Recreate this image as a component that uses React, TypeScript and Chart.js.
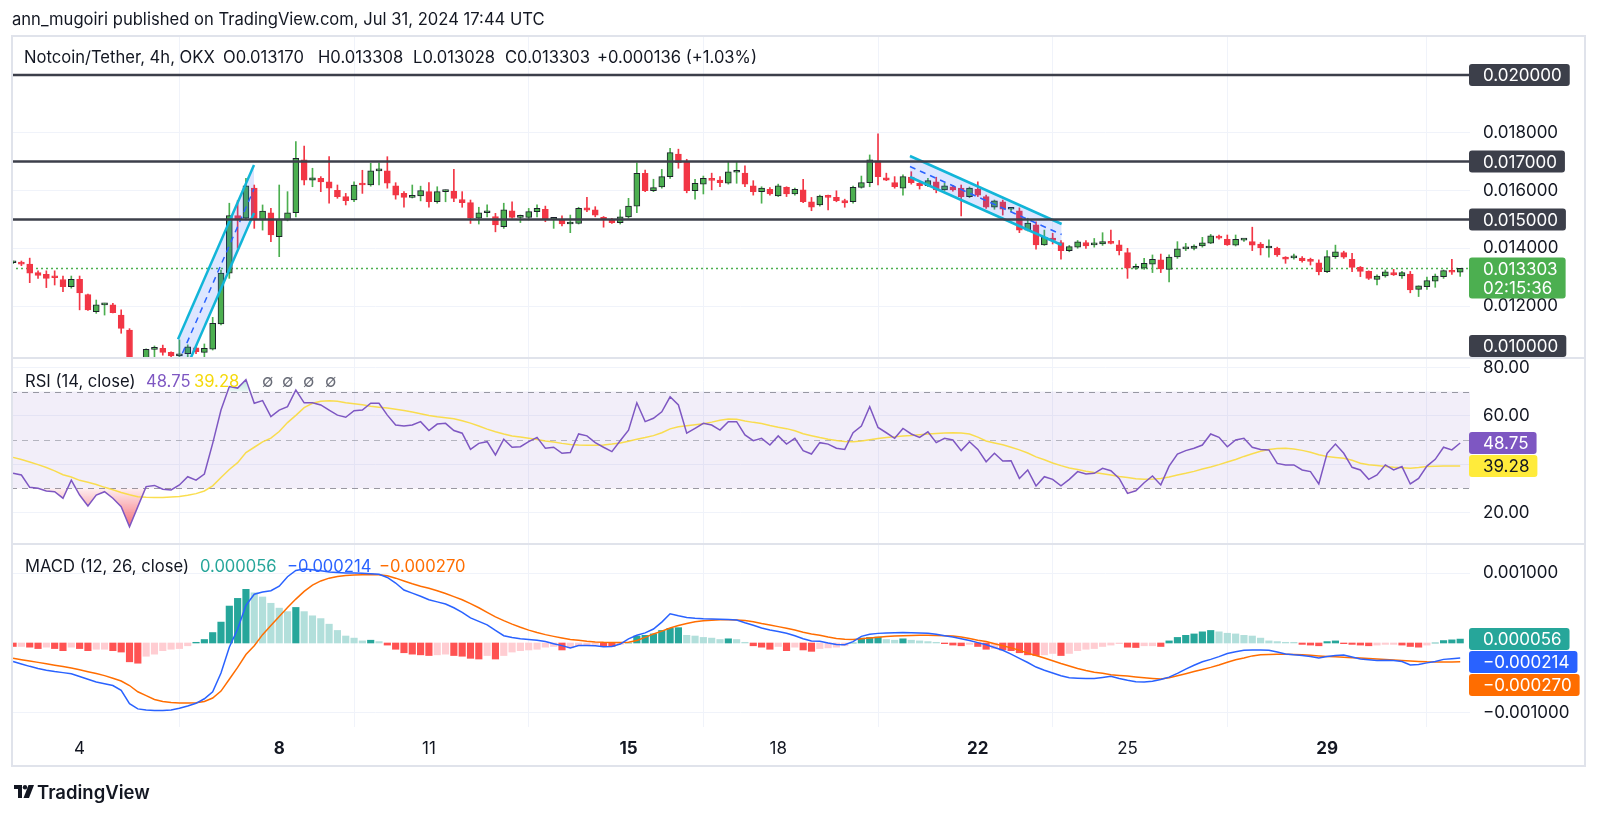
import React, { useEffect, useRef } from 'react';
import { Chart, registerables } from 'chart.js';

// ---------- clip every dataset to its own pane ----------
const paneClip = {
  id: 'paneClip',
  beforeDatasetDraw(chart: any, args: any) {
    const ys = chart.scales[args.meta.yAxisID];
    const ca = chart.chartArea;
    const ctx = chart.ctx;
    ctx.save();
    ctx.beginPath();
    ctx.rect(ca.left, ys.top, ca.right - ca.left, ys.bottom - ys.top);
    ctx.clip();
  },
  afterDatasetDraw(chart: any) {
    chart.ctx.restore();
  },
};
Chart.register(paneClip as any);
Chart.register(...registerables);

const FONT = 'Inter, "Noto Sans", Roboto, sans-serif';
Chart.defaults.font.family = FONT;

// ---------- data ----------
const dayTickIndex = [8, 32, 50, 74, 92, 116, 134, 158];
const dayTickLabels = ['4', '8', '11', '15', '18', '22', '25', '29'];
const boldDayLabels = ['8', '15', '22', '29'];

const opens = [
  0.01350, 0.01352, 0.01345, 0.01316, 0.01310, 0.01303, 0.01292, 0.01267, 0.01293, 0.01240,
  0.01181, 0.01204, 0.01204, 0.01169, 0.01117, 0.00985, 0.01005, 0.01050, 0.01054, 0.01040,
  0.01028, 0.01035, 0.01056, 0.01040, 0.01051, 0.01138, 0.01314, 0.01513, 0.01504, 0.01608,
  0.01498, 0.01523, 0.01440, 0.01498, 0.01523, 0.01706, 0.01636, 0.01642, 0.01630, 0.01601,
  0.01579, 0.01567, 0.01625, 0.01619, 0.01668, 0.01668, 0.01616, 0.01590, 0.01576, 0.01581,
  0.01596, 0.01561, 0.01596, 0.01598, 0.01569, 0.01558, 0.01504, 0.01523, 0.01510, 0.01475,
  0.01530, 0.01507, 0.01507, 0.01527, 0.01535, 0.01500, 0.01500, 0.01484, 0.01486, 0.01540,
  0.01533, 0.01507, 0.01498, 0.01489, 0.01509, 0.01546, 0.01659, 0.01599, 0.01612, 0.01648,
  0.01726, 0.01700, 0.01599, 0.01622, 0.01640, 0.01636, 0.01625, 0.01663, 0.01660, 0.01616,
  0.01596, 0.01604, 0.01581, 0.01611, 0.01588, 0.01602, 0.01561, 0.01550, 0.01582, 0.01576,
  0.01565, 0.01561, 0.01611, 0.01627, 0.01703, 0.01644, 0.01627, 0.01608, 0.01646, 0.01625,
  0.01617, 0.01630, 0.01602, 0.01613, 0.01608, 0.01579, 0.01604, 0.01579, 0.01542, 0.01561,
  0.01535, 0.01530, 0.01463, 0.01481, 0.01412, 0.01435, 0.01420, 0.01392, 0.01404, 0.01420,
  0.01412, 0.01415, 0.01424, 0.01412, 0.01385, 0.01331, 0.01331, 0.01345, 0.01360, 0.01327,
  0.01370, 0.01398, 0.01400, 0.01408, 0.01418, 0.01440, 0.01431, 0.01411, 0.01428, 0.01423,
  0.01415, 0.01401, 0.01400, 0.01370, 0.01367, 0.01366, 0.01362, 0.01350, 0.01319, 0.01371,
  0.01385, 0.01362, 0.01334, 0.01320, 0.01292, 0.01304, 0.01316, 0.01304, 0.01311, 0.01258,
  0.01267, 0.01286, 0.01302, 0.01323, 0.013170,
];
const highs = [
  0.01356, 0.01356, 0.01366, 0.01322, 0.01322, 0.01322, 0.01304, 0.01304, 0.01304, 0.01242,
  0.01221, 0.01210, 0.01210, 0.01187, 0.01122, 0.01015, 0.01052, 0.01062, 0.01065, 0.01042,
  0.01083, 0.01066, 0.01060, 0.01069, 0.01161, 0.01325, 0.01556, 0.01565, 0.01642, 0.01619,
  0.01550, 0.01538, 0.01619, 0.01596, 0.01769, 0.01754, 0.01677, 0.01648, 0.01717, 0.01619,
  0.01590, 0.01630, 0.01670, 0.01694, 0.01696, 0.01717, 0.01627, 0.01596, 0.01619, 0.01615,
  0.01627, 0.01613, 0.01602, 0.01673, 0.01596, 0.01567, 0.01542, 0.01550, 0.01521, 0.01556,
  0.01561, 0.01515, 0.01538, 0.01550, 0.01546, 0.01507, 0.01512, 0.01515, 0.01542, 0.01576,
  0.01544, 0.01510, 0.01504, 0.01533, 0.01573, 0.01696, 0.01671, 0.01639, 0.01673, 0.01746,
  0.01743, 0.01708, 0.01639, 0.01650, 0.01660, 0.01648, 0.01700, 0.01700, 0.01685, 0.01634,
  0.01613, 0.01610, 0.01622, 0.01613, 0.01608, 0.01639, 0.01576, 0.01584, 0.01584, 0.01599,
  0.01570, 0.01615, 0.01650, 0.01723, 0.01796, 0.01660, 0.01648, 0.01654, 0.01665, 0.01630,
  0.01642, 0.01646, 0.01625, 0.01618, 0.01619, 0.01612, 0.01630, 0.01584, 0.01567, 0.01567,
  0.01542, 0.01540, 0.01504, 0.01492, 0.01463, 0.01452, 0.01427, 0.01410, 0.01427, 0.01427,
  0.01434, 0.01454, 0.01463, 0.01427, 0.01400, 0.01345, 0.01365, 0.01377, 0.01380, 0.01377,
  0.01423, 0.01417, 0.01412, 0.01438, 0.01448, 0.01446, 0.01446, 0.01446, 0.01432, 0.01473,
  0.01420, 0.01429, 0.01404, 0.01371, 0.01380, 0.01371, 0.01366, 0.01360, 0.01392, 0.01411,
  0.01390, 0.01383, 0.01337, 0.01322, 0.01308, 0.01325, 0.01327, 0.01320, 0.01320, 0.01270,
  0.01300, 0.01311, 0.01325, 0.01362, 0.013308,
];
const lows = [
  0.01347, 0.01340, 0.01281, 0.01296, 0.01264, 0.01273, 0.01250, 0.01262, 0.01187, 0.01185,
  0.01175, 0.01169, 0.01176, 0.01106, 0.00960, 0.00965, 0.00995, 0.01010, 0.01030, 0.01018,
  0.01015, 0.01025, 0.01035, 0.01023, 0.01048, 0.01135, 0.01296, 0.01400, 0.01498, 0.01469,
  0.01463, 0.01423, 0.01371, 0.01495, 0.01509, 0.01619, 0.01613, 0.01596, 0.01556, 0.01573,
  0.01550, 0.01561, 0.01590, 0.01615, 0.01619, 0.01608, 0.01570, 0.01542, 0.01574, 0.01564,
  0.01542, 0.01556, 0.01561, 0.01561, 0.01542, 0.01486, 0.01484, 0.01509, 0.01457, 0.01469,
  0.01504, 0.01489, 0.01498, 0.01509, 0.01492, 0.01469, 0.01477, 0.01454, 0.01484, 0.01527,
  0.01509, 0.01473, 0.01486, 0.01484, 0.01504, 0.01523, 0.01596, 0.01596, 0.01608, 0.01642,
  0.01677, 0.01592, 0.01570, 0.01588, 0.01602, 0.01613, 0.01622, 0.01625, 0.01613, 0.01584,
  0.01556, 0.01584, 0.01579, 0.01579, 0.01584, 0.01558, 0.01530, 0.01546, 0.01533, 0.01561,
  0.01542, 0.01556, 0.01608, 0.01613, 0.01619, 0.01634, 0.01608, 0.01584, 0.01622, 0.01605,
  0.01613, 0.01592, 0.01600, 0.01598, 0.01512, 0.01575, 0.01579, 0.01538, 0.01535, 0.01515,
  0.01527, 0.01454, 0.01460, 0.01397, 0.01410, 0.01415, 0.01362, 0.01388, 0.01400, 0.01400,
  0.01404, 0.01410, 0.01415, 0.01377, 0.01296, 0.01327, 0.01327, 0.01316, 0.01316, 0.01284,
  0.01365, 0.01392, 0.01394, 0.01404, 0.01416, 0.01432, 0.01410, 0.01408, 0.01424, 0.01392,
  0.01377, 0.01369, 0.01372, 0.01348, 0.01362, 0.01352, 0.01342, 0.01308, 0.01316, 0.01365,
  0.01365, 0.01319, 0.01302, 0.01292, 0.01273, 0.01300, 0.01306, 0.01296, 0.01246, 0.01233,
  0.01258, 0.01265, 0.01296, 0.01310, 0.013028,
];
const closes = [
  0.01352, 0.01345, 0.01314, 0.01306, 0.01296, 0.01298, 0.01267, 0.01293, 0.01246, 0.01187,
  0.01204, 0.01206, 0.01177, 0.01123, 0.00985, 0.01005, 0.01050, 0.01054, 0.01040, 0.01028,
  0.01035, 0.01059, 0.01042, 0.01054, 0.01140, 0.01314, 0.01513, 0.01498, 0.01616, 0.01498,
  0.01529, 0.01446, 0.01500, 0.01523, 0.01711, 0.01636, 0.01644, 0.01630, 0.01608, 0.01579,
  0.01565, 0.01619, 0.01619, 0.01668, 0.01673, 0.01625, 0.01584, 0.01576, 0.01579, 0.01600,
  0.01561, 0.01596, 0.01598, 0.01573, 0.01558, 0.01504, 0.01523, 0.01530, 0.01481, 0.01533,
  0.01507, 0.01509, 0.01527, 0.01538, 0.01500, 0.01502, 0.01484, 0.01486, 0.01538, 0.01532,
  0.01515, 0.01498, 0.01489, 0.01509, 0.01546, 0.01659, 0.01599, 0.01610, 0.01648, 0.01731,
  0.01696, 0.01599, 0.01625, 0.01642, 0.01635, 0.01627, 0.01665, 0.01665, 0.01622, 0.01596,
  0.01608, 0.01588, 0.01616, 0.01588, 0.01604, 0.01561, 0.01542, 0.01581, 0.01576, 0.01565,
  0.01557, 0.01611, 0.01627, 0.01706, 0.01648, 0.01636, 0.01613, 0.01648, 0.01627, 0.01617,
  0.01634, 0.01602, 0.01616, 0.01602, 0.01579, 0.01608, 0.01584, 0.01542, 0.01564, 0.01535,
  0.01536, 0.01463, 0.01487, 0.01412, 0.01438, 0.01427, 0.01392, 0.01406, 0.01422, 0.01408,
  0.01415, 0.01423, 0.01417, 0.01392, 0.01331, 0.01334, 0.01348, 0.01362, 0.01329, 0.01370,
  0.01398, 0.01401, 0.01408, 0.01419, 0.01443, 0.01435, 0.01412, 0.01431, 0.01429, 0.01411,
  0.01401, 0.01404, 0.01377, 0.01362, 0.01369, 0.01357, 0.01355, 0.01319, 0.01371, 0.01388,
  0.01369, 0.01334, 0.01320, 0.01296, 0.01304, 0.01319, 0.01308, 0.01316, 0.01256, 0.01270,
  0.01288, 0.01304, 0.01323, 0.01317, 0.013303,
];

const rsiValues = [
  36.2, 35.5, 30.4, 30.0, 28.9, 28.6, 25.9, 33.4, 27.2, 22.7,
  27.2, 28.6, 25.9, 22.4, 14.1, 22.4, 30.7, 31.2, 29.6, 29.3,
  31.4, 34.8, 33.4, 35.9, 48.6, 62.4, 72.1, 71.5, 75.0, 65.2,
  66.3, 59.7, 62.4, 63.8, 70.7, 65.4, 65.4, 64.5, 62.4, 60.3,
  59.4, 62.1, 62.4, 65.2, 65.2, 60.3, 56.2, 55.8, 56.2, 57.6,
  53.9, 56.6, 56.9, 53.9, 52.8, 46.1, 48.6, 49.3, 43.8, 50.3,
  47.0, 47.2, 49.3, 51.1, 46.6, 47.0, 44.5, 44.8, 52.5, 51.7,
  48.9, 47.0, 45.2, 49.7, 54.1, 65.4, 57.6, 59.0, 61.7, 67.9,
  64.5, 52.8, 54.8, 56.9, 56.2, 54.1, 57.6, 57.6, 52.1, 49.7,
  50.7, 47.9, 51.7, 48.3, 50.7, 45.6, 44.2, 48.9, 48.3, 46.6,
  46.1, 53.0, 55.8, 63.8, 55.2, 53.0, 50.7, 54.8, 52.5, 51.1,
  53.4, 48.9, 50.7, 50.0, 45.6, 49.3, 46.1, 41.0, 44.5, 41.3,
  41.4, 34.1, 37.6, 31.0, 34.8, 33.7, 31.0, 33.7, 36.9, 35.9,
  36.2, 38.3, 37.3, 34.1, 27.9, 29.0, 32.3, 35.1, 31.4, 39.2,
  44.2, 45.6, 46.6, 47.9, 52.5, 51.1, 47.2, 50.0, 50.7, 47.0,
  46.1, 45.9, 40.3, 39.7, 39.7, 37.6, 36.9, 31.8, 44.5, 48.3,
  44.5, 38.7, 37.6, 33.7, 35.5, 39.7, 37.6, 39.0, 31.8, 34.1,
  39.2, 42.0, 47.0, 45.9, 48.75,
];
const rsiMaValues = [
  42.8, 41.9, 40.9, 39.8, 38.6, 37.2, 35.6, 34.7, 33.3, 32.5,
  31.6, 30.4, 29.4, 28.3, 27.3, 26.5, 26.3, 26.2, 26.2, 26.4,
  26.6, 27.1, 27.8, 28.9, 31.0, 34.5, 37.8, 40.6, 44.8, 47.0,
  49.2, 50.8, 53.5, 57.2, 60.2, 63.4, 65.2, 66.0, 66.3, 66.0,
  65.4, 65.0, 64.6, 64.0, 63.6, 63.2, 62.7, 62.2, 61.6, 60.9,
  60.1, 59.6, 59.2, 58.8, 58.0, 57.0, 55.8, 54.5, 53.4, 52.5,
  51.7, 51.2, 50.7, 50.2, 49.6, 49.2, 48.6, 48.1, 47.9, 47.8,
  47.8, 47.9, 48.3, 48.8, 49.5, 50.3, 51.0, 51.8, 53.0, 54.6,
  55.5, 55.9, 56.3, 56.7, 57.4, 58.2, 58.7, 58.6, 57.9, 57.3,
  56.8, 56.0, 55.3, 54.7, 53.8, 52.6, 51.8, 51.0, 50.3, 49.8,
  49.4, 49.3, 49.6, 50.1, 50.6, 51.0, 51.3, 51.7, 51.9, 52.2,
  52.5, 52.7, 52.9, 53.0, 52.9, 52.5, 51.2, 49.6, 48.8, 48.0,
  47.0, 45.9, 44.6, 43.0, 41.8, 40.5, 39.4, 38.4, 37.8, 37.1,
  36.5, 36.0, 35.5, 34.9, 34.5, 34.0, 33.7, 33.8, 34.1, 34.7,
  35.5, 36.2, 37.0, 38.0, 38.8, 39.8, 40.9, 41.9, 43.2, 44.3,
  45.3, 46.1, 46.5, 46.6, 46.3, 45.7, 44.9, 43.9, 43.2, 42.8,
  42.4, 41.6, 40.4, 39.8, 39.4, 39.0, 38.7, 38.5, 38.3, 38.6,
  39.0, 39.1, 39.2, 39.2, 39.28,
];

// MACD values in millionths
const macdE6 = [
  -265, -300, -335, -365, -390, -410, -425, -440, -480, -520,
  -560, -585, -610, -680, -870, -945, -960, -970, -968, -960,
  -935, -905, -865, -800, -700, -430, -60, 200, 540, 700,
  730, 750, 815, 950, 1040, 1060, 1050, 1035, 1020, 1010,
  1005, 1003, 1000, 995, 985, 940, 860, 760, 715, 670,
  620, 590, 560, 505, 440, 360, 310, 260, 180, 105,
  80, 60, 50, 38, 20, -10, -38, -70, -35, -35,
  -40, -55, -50, -15, 60, 110, 145, 200, 300, 420,
  390, 365, 355, 348, 345, 340, 337, 330, 290, 255,
  215, 185, 165, 140, 105, 60, 30, 25, 0, -20,
  -25, 20, 95, 125, 138, 142, 148, 150, 148, 145,
  140, 125, 105, 85, 60, 35, 5, -25, -65, -105,
  -160, -220, -280, -345, -390, -430, -470, -500, -505, -508,
  -510, -495, -478, -510, -535, -555, -558, -548, -525, -490,
  -435, -375, -320, -270, -235, -195, -150, -125, -105, -100,
  -100, -105, -130, -158, -170, -178, -195, -215, -195, -180,
  -172, -200, -228, -240, -250, -248, -250, -265, -315, -310,
  -285, -265, -235, -225, -214,
];
const signalE6 = [
  -220, -240, -258, -278, -298, -318, -338, -360, -385, -412,
  -438, -468, -505, -545, -610, -700, -755, -810, -840, -855,
  -860, -862, -858, -838, -790, -690, -520, -350, -165, -40,
  120, 250, 380, 510, 630, 740, 830, 890, 930, 955,
  968, 975, 980, 982, 980, 965, 930, 890, 850, 815,
  785, 750, 710, 665, 620, 565, 505, 440, 375, 320,
  270, 225, 185, 150, 120, 95, 72, 50, 38, 25,
  15, 10, 8, 8, 10, 35, 80, 130, 170, 215,
  250, 280, 305, 320, 328, 332, 333, 330, 322, 305,
  280, 258, 235, 212, 185, 155, 130, 110, 85, 65,
  52, 50, 60, 70, 82, 92, 100, 105, 108, 110,
  110, 108, 105, 100, 85, 65, 40, 20, -10, -40,
  -70, -105, -145, -180, -215, -255, -295, -330, -365, -395,
  -420, -435, -455, -465, -475, -488, -500, -510, -518, -500,
  -470, -440, -410, -380, -350, -315, -275, -240, -215, -185,
  -170, -165, -160, -162, -165, -170, -177, -185, -192, -198,
  -203, -210, -216, -222, -230, -237, -244, -250, -258, -265,
  -270, -272, -272, -271, -270,
];
const histE6 = [
  -50, -50, -60, -80, -60, -80, -110, -60, -80, -110,
  -90, -90, -110, -130, -270, -290, -190, -160, -110, -90,
  -80, -40, 10, 50, 150, 300, 530, 640, 770, 720,
  660, 570, 500, 450, 510, 450, 390, 350, 270, 180,
  100, 70, 30, 40, 20, -30, -90, -140, -160, -170,
  -180, -170, -160, -180, -190, -220, -230, -180, -230, -180,
  -130, -110, -100, -90, -60, -50, -100, -70, -40, -30,
  -20, -40, -50, -20, 0, 100, 110, 130, 180, 210,
  220, 110, 100, 80, 70, 50, 60, 50, 10, -40,
  -60, -90, -50, -110, -60, -100, -120, -80, -70, -60,
  -40, 0, 70, 80, 85, 50, 40, 60, 40, 30,
  20, 10, -10, -30, -40, -20, -50, -90, -80, -100,
  -110, -140, -170, -180, -170, -150, -180, -150, -110, -90,
  -80, -50, -30, -10, -60, -65, -40, -40, -50, 30,
  80, 110, 130, 160, 180, 160, 140, 130, 110, 100,
  70, 30, 20, 10, 10, -20, -30, -40, 20, 30,
  -10, -20, -30, -40, -30, -20, -20, -30, -50, -60,
  -30, 0, 35, 45, 56,
];

const levelPrices = [0.02, 0.017, 0.015, 0.01];
const lastPrice = 0.013303;
const countdownText = '02:15:36';
const priceTicks = [0.012, 0.014, 0.016, 0.018];
const rsiTicks = [20, 40, 60, 80];
const macdTicks = [-0.001, 0.001];
const lastRsi = 48.75;
const lastRsiMa = 39.28;
const lastHist = 0.000056;
const lastMacd = -0.000214;
const lastSignal = -0.00027;

// drawn channels (bar index, price)
const riseChannelX = [19.83, 28.97];
const riseChannelTop = [0.010852, 0.016882];
const riseChannelWidth = 0.00166;
const fallChannelX = [107.84, 126.08];
const fallChannelTop = [0.017194, 0.014841];
const fallChannelWidth = 0.000727;

// ---------- layout constants ----------
const X_MIN = -0.25;
const X_MAX = 175.18;
const INK = '#131722';
const UP = '#4caf50';
const DOWN = '#f23645';
const CYAN = '#12b5d8';
const LEGEND_SIZE = 16.6;

const fmtMinus = (s: string) => s.replace('-', '\u2212');

function roundRect(ctx: any, x: number, y: number, w: number, h: number, r: number) {
  ctx.beginPath();
  ctx.moveTo(x + r, y);
  ctx.lineTo(x + w - r, y);
  ctx.quadraticCurveTo(x + w, y, x + w, y + r);
  ctx.lineTo(x + w, y + h - r);
  ctx.quadraticCurveTo(x + w, y + h, x + w - r, y + h);
  ctx.lineTo(x + r, y + h);
  ctx.quadraticCurveTo(x, y + h, x, y + h - r);
  ctx.lineTo(x, y + r);
  ctx.quadraticCurveTo(x, y, x + r, y);
  ctx.closePath();
}

const AXIS_FONT = `17px ${FONT}`;

function labelBox(ctx: any, x: number, cy: number, lines: string[], bg: string, fg: string) {
  ctx.font = AXIS_FONT;
  const tw = Math.max(...lines.map((l) => ctx.measureText(l).width));
  const lh = 19;
  const h = 22 + (lines.length - 1) * lh;
  const w = 14 + tw + 8;
  roundRect(ctx, x, cy - 11, w, h, 3);
  ctx.fillStyle = bg;
  ctx.fill();
  ctx.fillStyle = fg;
  ctx.textAlign = 'left';
  ctx.textBaseline = 'middle';
  lines.forEach((l, k) => ctx.fillText(l, x + 14, cy + 1 + k * lh));
  return h;
}

// gradient zone fill between the RSI line and a level (oversold / overbought)
function rsiZone(chart: any, level: number, far: number, below: boolean, rgb: string) {
  const { ctx, chartArea: ca } = chart;
  const xs = chart.scales.x;
  const yr = chart.scales.yRSI;
  const yl = yr.getPixelForValue(level);
  const yf = yr.getPixelForValue(far);
  ctx.save();
  ctx.beginPath();
  if (below) ctx.rect(ca.left, yl, ca.right - ca.left, yr.bottom - yl);
  else ctx.rect(ca.left, yr.top, ca.right - ca.left, yl - yr.top);
  ctx.clip();
  ctx.beginPath();
  ctx.moveTo(xs.getPixelForValue(0), yl);
  rsiValues.forEach((v, i) => ctx.lineTo(xs.getPixelForValue(i), yr.getPixelForValue(v)));
  ctx.lineTo(xs.getPixelForValue(rsiValues.length - 1), yl);
  ctx.closePath();
  const g = ctx.createLinearGradient(0, yl, 0, yf);
  g.addColorStop(0, `rgba(${rgb},0.08)`);
  g.addColorStop(1, `rgba(${rgb},0.8)`);
  ctx.fillStyle = g;
  ctx.fill();
  ctx.restore();
}

const decor = {
  id: 'decor',
  beforeDatasetsDraw(chart: any) {
    const { ctx, chartArea: ca } = chart;
    const r = chart.scales.yRSI;
    const y70 = r.getPixelForValue(70);
    const y50 = r.getPixelForValue(50);
    const y30 = r.getPixelForValue(30);
    ctx.save();
    ctx.fillStyle = 'rgba(126,87,194,0.1)';
    ctx.fillRect(ca.left, y70, ca.right - ca.left, y30 - y70);
    ctx.lineWidth = 1;
    ctx.setLineDash([6, 5]);
    [[y70, 'rgba(120,123,134,0.75)'], [y50, 'rgba(120,123,134,0.5)'], [y30, 'rgba(120,123,134,0.75)']].forEach(([y, c]: any) => {
      ctx.strokeStyle = c;
      ctx.beginPath();
      ctx.moveTo(ca.left, Math.round(y) + 0.5);
      ctx.lineTo(ca.right, Math.round(y) + 0.5);
      ctx.stroke();
    });
    ctx.restore();
    rsiZone(chart, 30, 12, true, '242,54,69');
    rsiZone(chart, 70, 88, false, '8,153,129');
  },
  afterDraw(chart: any) {
    const { ctx, chartArea: ca } = chart;
    const yp = chart.scales.yPrice;
    const yr = chart.scales.yRSI;
    const ym = chart.scales.yMACD;
    const frameRight = 1585;
    ctx.save();
    ctx.strokeStyle = '#e0e3eb';
    ctx.lineWidth = 2;
    ctx.strokeRect(12, 36, frameRight - 12, 766 - 36);
    [yp.bottom, yr.bottom].forEach((y: number) => {
      ctx.beginPath();
      ctx.moveTo(12, y);
      ctx.lineTo(frameRight, y);
      ctx.stroke();
    });
    const bx = ca.right - 1;
    levelPrices.forEach((p) => {
      let y = yp.getPixelForValue(p);
      y = Math.min(Math.max(y, yp.top + 11), yp.bottom - 12);
      labelBox(ctx, bx, y, [p.toFixed(6)], '#3c3f4a', '#ffffff');
    });
    labelBox(ctx, bx, yp.getPixelForValue(lastPrice), [lastPrice.toFixed(6), countdownText], UP, '#ffffff');
    const yy = yr.getPixelForValue(lastRsi);
    const h1 = labelBox(ctx, bx, yy, [lastRsi.toFixed(2)], '#7e57c2', '#ffffff');
    const y2 = Math.max(yr.getPixelForValue(lastRsiMa), yy + h1);
    labelBox(ctx, bx, y2, [lastRsiMa.toFixed(2)], '#ffeb3b', INK);
    const ya = ym.getPixelForValue(lastHist);
    const ha = labelBox(ctx, bx, ya, [lastHist.toFixed(6)], '#26a69a', '#ffffff');
    const yb = Math.max(ym.getPixelForValue(lastMacd), ya + ha + 1);
    const hb = labelBox(ctx, bx, yb, [fmtMinus(lastMacd.toFixed(6))], '#2962ff', '#ffffff');
    const yc = Math.max(ym.getPixelForValue(lastSignal), yb + hb + 1);
    labelBox(ctx, bx, yc, [fmtMinus(lastSignal.toFixed(6))], '#ff6d00', '#ffffff');
    ctx.restore();
  },
};

function buildChart(canvas: HTMLCanvasElement) {
  const idx = opens.map((_, i) => i);
  const isUp = idx.map((i) => closes[i] >= opens[i]);
  const histColors = histE6.map((v, i) => {
    const prev = i > 0 ? histE6[i - 1] : 0;
    return v >= 0 ? (v > prev ? '#26a69a' : '#b2dfdb') : v < prev ? '#ff5252' : '#ffcdd2';
  });
  const flat = (y: number) => [{ x: X_MIN, y }, { x: X_MAX, y }];
  const line = (extra: any) => ({ type: 'line', pointRadius: 0, tension: 0, borderWidth: 1.5, fill: false, ...extra });
  const channel = (xs: number[], top: number[], width: number) => [
    line({ yAxisID: 'yPrice', data: xs.map((x, k) => ({ x, y: top[k] })), borderColor: CYAN, borderWidth: 2.5, order: 0 }),
    line({
      yAxisID: 'yPrice', data: xs.map((x, k) => ({ x, y: top[k] - width })), borderColor: CYAN, borderWidth: 2.5,
      fill: '-1', backgroundColor: 'rgba(41,98,255,0.16)', order: 0,
    }),
    line({
      yAxisID: 'yPrice', data: xs.map((x, k) => ({ x, y: top[k] - width / 2 })), borderColor: '#2962ff',
      borderWidth: 1.5, borderDash: [6, 5], order: 0,
    }),
  ];

  const datasets: any[] = [
    ...levelPrices.map((p) => line({ yAxisID: 'yPrice', data: flat(p), borderColor: '#3c3f4a', borderWidth: 2.5, order: 0 })),
    ...channel(riseChannelX, riseChannelTop, riseChannelWidth),
    ...channel(fallChannelX, fallChannelTop, fallChannelWidth),
    {
      type: 'bar', yAxisID: 'yPrice', order: 1,
      data: idx.map((i) => ({ x: i, y: [opens[i], closes[i]] })),
      backgroundColor: isUp.map((u) => (u ? UP : DOWN)),
      borderColor: isUp.map((u) => (u ? '#1e222d' : DOWN)),
      borderWidth: 1, borderSkipped: false, barThickness: 6, grouped: false, minBarLength: 2,
    },
    {
      type: 'bar', yAxisID: 'yPrice', order: 2,
      data: idx.map((i) => ({ x: i, y: [lows[i], highs[i]] })),
      backgroundColor: isUp.map((u) => (u ? UP : DOWN)),
      borderWidth: 0, barThickness: 1, grouped: false,
    },
    line({ yAxisID: 'yPrice', data: flat(lastPrice), borderColor: UP, borderWidth: 1.5, borderDash: [2, 3], order: 3 }),
    // RSI
    line({ yAxisID: 'yRSI', data: idx.map((i) => ({ x: i, y: rsiValues[i] })), borderColor: '#7e57c2', order: 1 }),
    line({ yAxisID: 'yRSI', data: idx.map((i) => ({ x: i, y: rsiMaValues[i] })), borderColor: 'rgba(250,218,60,0.9)', borderWidth: 1.5, order: 2 }),
    // MACD
    {
      type: 'bar', yAxisID: 'yMACD', order: 3,
      data: idx.map((i) => ({ x: i, y: histE6[i] / 1e6 })),
      backgroundColor: histColors, borderWidth: 0, barThickness: 6.5, grouped: false,
    },
    line({ yAxisID: 'yMACD', data: idx.map((i) => ({ x: i, y: macdE6[i] / 1e6 })), borderColor: '#2962ff', order: 1 }),
    line({ yAxisID: 'yMACD', data: idx.map((i) => ({ x: i, y: signalE6[i] / 1e6 })), borderColor: '#ff6d00', order: 2 }),
  ];

  const yCommon = (stackWeight: number, min: number, max: number, ticks: number[], fmt: (v: number) => string) => ({
    type: 'linear', position: 'right', stack: 'panes', stackWeight, min, max, bounds: 'data',
    grid: { color: '#f0f3fa', drawTicks: false, lineWidth: 1 },
    border: { display: false },
    ticks: { padding: 13, color: INK, font: { size: 17, family: FONT }, callback: (v: number) => fmt(v) },
    afterBuildTicks: (s: any) => { s.ticks = ticks.map((v) => ({ value: v })); },
    afterFit: (s: any) => { s.width = 115; },
  });

  return new Chart(canvas, {
    type: 'bar',
    data: { datasets },
    plugins: [decor as any],
    options: {
      animation: false,
      responsive: false,
      devicePixelRatio: 1,
      layout: { padding: { left: 11, top: 36, right: 15, bottom: 48 } },
      plugins: { legend: { display: false }, tooltip: { enabled: false } },
      scales: {
        x: {
          type: 'linear', min: X_MIN, max: X_MAX, offset: false, bounds: 'data',
          grid: { color: '#f0f3fa', drawTicks: false },
          border: { display: false },
          ticks: {
            autoSkip: false, maxRotation: 0, padding: 12, color: INK,
            font: (c: any) => {
              const k = dayTickIndex.indexOf(c.tick ? c.tick.value : -1);
              const lbl = k >= 0 ? dayTickLabels[k] : '';
              return { size: 17, family: FONT, weight: boldDayLabels.includes(lbl) ? 'bold' : 'normal' };
            },
            callback: (v: number) => {
              const k = dayTickIndex.indexOf(v);
              return k >= 0 ? dayTickLabels[k] : '';
            },
          },
          afterBuildTicks: (s: any) => { s.ticks = dayTickIndex.map((v) => ({ value: v })); },
          afterFit: (s: any) => { s.height = 39; },
        },
        yPrice: yCommon(322, 0.010204, 0.021346, priceTicks, (v) => v.toFixed(6)),
        yRSI: yCommon(186, 6.94, 83.95, rsiTicks, (v) => v.toFixed(2)),
        yMACD: yCommon(183, -0.001205, 0.00142, macdTicks, (v) => fmtMinus(v.toFixed(6))),
      } as any,
    } as any,
  } as any);
}

const Txt = ({ x, y, size = LEGEND_SIZE, color = INK, weight = 400, children }: any) => (
  <div
    style={{
      position: 'absolute', left: x, top: y - size * 0.6, fontSize: size, lineHeight: `${size * 1.2}px`,
      color, fontWeight: weight, whiteSpace: 'nowrap', fontFamily: FONT,
    }}
  >
    {children}
  </div>
);

export default function App() {
  const ref = useRef<HTMLCanvasElement | null>(null);
  useEffect(() => {
    if (!ref.current) return;
    const chart = buildChart(ref.current);
    return () => chart.destroy();
  }, []);
  return (
    <div style={{ position: 'fixed', left: 0, top: 0, width: 1600, height: 814, background: '#ffffff', overflow: 'hidden' }}>
      <canvas ref={ref} width={1600} height={814} style={{ position: 'absolute', left: 0, top: 0, width: 1600, height: 814 }} />
      <Txt x={12} y={19.5}>ann_mugoiri published on TradingView.com, Jul 31, 2024 17:44 UTC</Txt>
      <Txt x={24} y={58}>Notcoin/Tether, 4h, OKX</Txt>
      <Txt x={223} y={58}>O0.013170</Txt>
      <Txt x={318} y={58}>H0.013308</Txt>
      <Txt x={413} y={58}>L0.013028</Txt>
      <Txt x={505} y={58}>C0.013303</Txt>
      <Txt x={597} y={58}>+0.000136 (+1.03%)</Txt>
      <Txt x={25} y={381.5}>RSI (14, close)</Txt>
      <Txt x={146} y={381.5} color="#7e57c2">48.75</Txt>
      <Txt x={194} y={381.5} color="#f5d90a">39.28</Txt>
      {[262, 282, 303, 325].map((x) => (
        <Txt key={x} x={x} y={381.5} color="#6a6d78">∅</Txt>
      ))}
      <Txt x={25} y={566.5}>MACD (12, 26, close)</Txt>
      <Txt x={200} y={566.5} color="#26a69a">0.000056</Txt>
      <Txt x={287} y={566.5} color="#2962ff">{'\u22120.000214'}</Txt>
      <Txt x={379} y={566.5} color="#ff6d00">{'\u22120.000270'}</Txt>
      <svg style={{ position: 'absolute', left: 14, top: 785 }} width={20} height={14} viewBox="0 0 20 14">
        <path d="M0 0 H8 V13 H4 V4 H0 Z" fill={INK} />
        <circle cx={11} cy={2.2} r={2.2} fill={INK} />
        <path d="M14.5 0 H20 L15 13 H9.5 Z" fill={INK} />
      </svg>
      <Txt x={37} y={792} size={18.5} weight={600}>TradingView</Txt>
    </div>
  );
}
